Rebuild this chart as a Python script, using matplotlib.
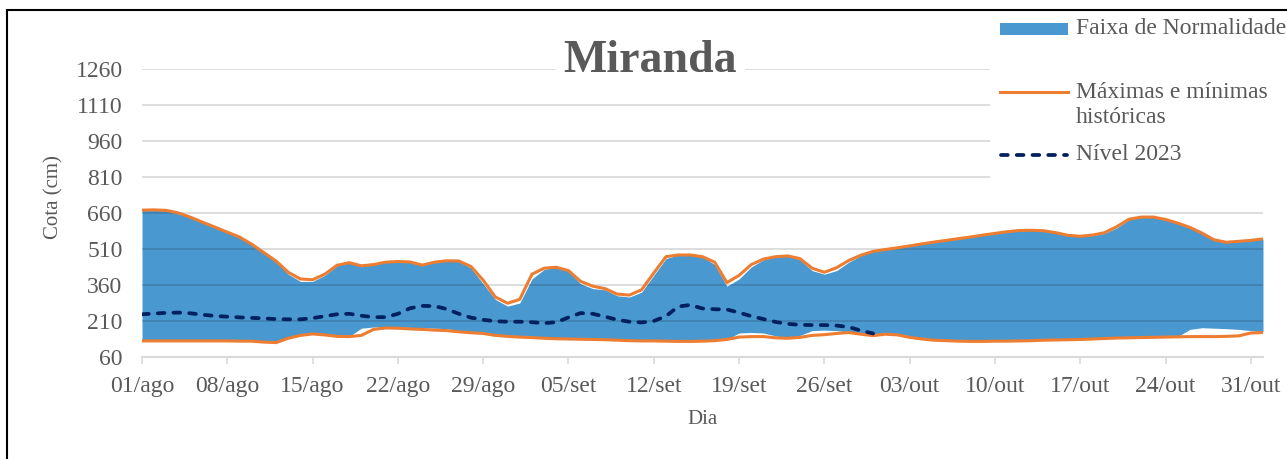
import matplotlib
matplotlib.use("Agg")
import matplotlib.pyplot as plt
from matplotlib.patches import Rectangle
from matplotlib.lines import Line2D
import numpy as np
import pandas as pd

plt.rcParams['font.family'] = ['Liberation Serif', 'DejaVu Serif']

# ---------------- data ----------------
dates = pd.date_range("2023-08-01", "2023-11-01", freq="D")

max_hist = [672, 673, 671, 660, 642, 621, 601, 580, 560, 530,
            495, 460, 413, 385, 382, 405, 442, 453, 440, 445,
            455, 458, 456, 443, 455, 461, 460, 437, 380, 310,
            284, 300, 405, 430, 434, 420, 375, 355, 345, 322,
            318, 340, 410, 478, 485, 485, 478, 455, 370, 400,
            445, 468, 478, 481, 470, 430, 413, 432, 462, 484,
            500, 508, 515, 523, 531, 539, 546, 553, 560, 568,
            575, 582, 587, 588, 586, 578, 567, 563, 568, 578,
            603, 634, 643, 643, 633, 618, 600, 576, 548, 538,
            542, 546, 552]

min_hist = [127, 127, 127, 127, 127, 127, 127, 127, 126, 126,
            122, 120, 138, 150, 156, 152, 146, 145, 150, 175,
            181, 180, 177, 175, 172, 170, 165, 161, 158, 150,
            146, 143, 141, 138, 136, 135, 134, 133, 132, 130,
            128, 127, 127, 126, 125, 125, 126, 128, 133, 143,
            145, 145, 140, 138, 142, 150, 153, 158, 162, 155,
            149, 155, 152, 142, 135, 130, 128, 126, 125, 125,
            126, 126, 127, 128, 130, 131, 132, 133, 135, 137,
            139, 140, 141, 142, 143, 144, 145, 145, 145, 146,
            148, 160, 162]

normal_upper = [672, 673, 671, 660, 642, 621, 601, 580, 560, 530,
                495, 460, 405, 375, 375, 400, 440, 453, 440, 445,
                455, 458, 456, 443, 455, 461, 460, 430, 365, 300,
                272, 285, 385, 425, 434, 418, 365, 345, 340, 315,
                310, 330, 400, 470, 485, 485, 478, 445, 355, 385,
                435, 465, 478, 481, 465, 420, 405, 420, 455, 482,
                500, 508, 515, 523, 531, 539, 546, 553, 560, 568,
                575, 582, 587, 588, 586, 578, 567, 563, 566, 575,
                598, 632, 643, 643, 633, 618, 600, 576, 548, 538,
                542, 546, 552]

normal_lower = [127, 127, 127, 127, 127, 127, 127, 127, 126, 126,
                122, 120, 138, 150, 156, 152, 146, 145, 180, 185,
                185, 184, 183, 182, 180, 178, 170, 163, 158, 150,
                146, 143, 141, 138, 136, 135, 134, 133, 132, 130,
                128, 127, 127, 126, 125, 125, 126, 128, 133, 160,
                162, 160, 148, 140, 150, 170, 172, 170, 164, 155,
                149, 155, 152, 142, 135, 130, 128, 126, 125, 125,
                126, 126, 127, 128, 130, 131, 132, 133, 135, 137,
                139, 140, 141, 142, 143, 145, 175, 182, 180, 178,
                175, 170, 165]

nivel_2023 = [238, 241, 244, 245, 242, 236, 231, 228, 225, 223,
              221, 218, 217, 217, 222, 230, 238, 240, 232, 226,
              226, 240, 263, 273, 272, 260, 240, 224, 215, 209,
              207, 207, 205, 201, 205, 225, 243, 240, 228, 215,
              207, 204, 210, 230, 270, 277, 262, 259, 258, 245,
              230, 218, 206, 198, 194, 193, 193, 191, 185, 170,
              158]

tick_labels = ["01/ago", "08/ago", "15/ago", "22/ago", "29/ago", "05/set",
               "12/set", "19/set", "26/set", "03/out", "10/out", "17/out",
               "24/out", "31/out"]
y_ticks = [60, 210, 360, 510, 660, 810, 960, 1110, 1260]

title = "Miranda"
legend_labels = ["Faixa de Normalidade", "Máximas e mínimas\nhistóricas", "Nível 2023"]

# ---------------- style ----------------
BLUE = "#4A98D0"
ORANGE = "#ED7D31"
NAVY = "#002060"
GRAY_TXT = "#595959"
GRID = "#D9D9D9"
DASH = (0, (1.8, 2.4))

W, H = 1287, 459
fig = plt.figure(figsize=(W / 100, H / 100), dpi=100)
fig.patch.set_facecolor("white")

def fx(px):
    return px / W

def fy(py):
    return 1 - py / H

ax = fig.add_axes([fx(142), fy(357), fx(1263) - fx(142), fy(69) - fy(357)])

x = np.arange(len(dates))
x_lvl = np.arange(len(nivel_2023))

ax.fill_between(x, normal_lower, normal_upper, color=BLUE, lw=0, zorder=1)
for yv in y_ticks[1:]:
    ax.axhline(yv, color="black", alpha=0.15, lw=1.3, zorder=1.5)
ax.plot(x, max_hist, color=ORANGE, lw=2.2, zorder=3, solid_joinstyle="round")
ax.plot(x, min_hist, color=ORANGE, lw=2.2, zorder=3, solid_joinstyle="round")
ax.plot(x_lvl, nivel_2023, color=NAVY, lw=2.7, ls=DASH, zorder=4,
        dash_capstyle="round")

ax.set_xlim(0, len(dates) - 1)
ax.set_ylim(y_ticks[0], y_ticks[-1])

xt = np.arange(0, len(dates), 7)[:len(tick_labels)]
ax.set_xticks(xt)
ax.set_xticklabels(tick_labels)
ax.set_yticks(y_ticks)
ax.set_yticklabels([str(v) for v in y_ticks])

for s in ["top", "right", "left"]:
    ax.spines[s].set_visible(False)
ax.spines["bottom"].set_color(GRID)
ax.spines["bottom"].set_linewidth(1.5)
ax.spines["bottom"].set_zorder(0.5)

ax.tick_params(axis="x", colors=GRID, length=5, width=1.2, pad=9,
               labelsize=17, labelcolor=GRAY_TXT)
ax.tick_params(axis="y", length=0, pad=14, labelsize=17, labelcolor=GRAY_TXT)
ax.set_facecolor("white")

# Axis titles
fig.text(fx(702), fy(420), "Dia", fontsize=15, color=GRAY_TXT, ha="center", va="center")
fig.text(fx(54), fy(197), "Cota (cm)", fontsize=15, color=GRAY_TXT, ha="center",
         va="center", rotation=90)

# Title with white box over gridline
fig.text(fx(650), fy(61), title, fontsize=33, fontweight="bold", color=GRAY_TXT,
         ha="center", va="center",
         bbox=dict(facecolor="white", edgecolor="none", pad=6), zorder=5)

# Legend (white box covering gridlines)
fig.patches.append(Rectangle((fx(990), fy(195)), fx(1287) - fx(990), fy(11) - fy(195),
                             transform=fig.transFigure, facecolor="white",
                             edgecolor="none", zorder=2))
fig.patches.append(Rectangle((fx(1000), fy(35)), fx(1068) - fx(1000), fy(23) - fy(35),
                             transform=fig.transFigure, facecolor=BLUE,
                             edgecolor="none", zorder=3))
fig.lines.append(Line2D([fx(1000), fx(1068)], [fy(92), fy(92)], transform=fig.transFigure,
                       color=ORANGE, lw=2.2, zorder=3))
fig.lines.append(Line2D([fx(1001), fx(1067)], [fy(155), fy(155)], transform=fig.transFigure,
                       color=NAVY, lw=2.7, ls=DASH, dash_capstyle="round",
                       zorder=3))
fig.text(fx(1076), fy(29), legend_labels[0], fontsize=17, color=GRAY_TXT,
         ha="left", va="center", zorder=4)
fig.text(fx(1076), fy(105), legend_labels[1], fontsize=17, color=GRAY_TXT,
         ha="left", va="center", linespacing=1.22, zorder=4)
fig.text(fx(1076), fy(155), legend_labels[2], fontsize=17, color=GRAY_TXT,
         ha="left", va="center", zorder=4)

# outer black frame (left and top visible)
fig.patches.append(Rectangle((fx(7), -0.1), 1.2, fy(10) + 0.1,
                             transform=fig.transFigure, facecolor="none",
                             edgecolor="black", lw=1.5, zorder=6))

fig.savefig("out.png", dpi=100)
